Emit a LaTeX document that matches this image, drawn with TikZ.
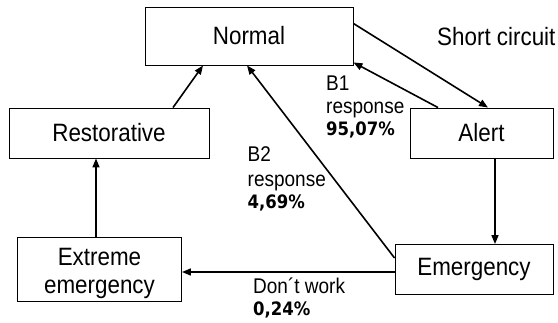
\documentclass[tikz,border=0pt]{standalone}
\usepackage{fontspec}
\setmainfont{Liberation Sans}
\newfontfamily\pctfont{DejaVu Sans}
\usetikzlibrary{arrows.meta}
% text in this chart is set slightly taller than its natural height
\newcommand{\tall}[1]{\scalebox{1}[1.12]{#1}}
\begin{document}
\begin{tikzpicture}[x=1pt,y=-1pt,
  state/.style={draw=black, line width=0.9pt, fill=white, inner sep=0pt,
    font=\fontsize{22.4}{26}\selectfont, align=center},
  flow/.style={line width=1.6pt, -{Triangle[length=9pt,width=7pt]}},
  lbl/.style={inner sep=0pt, anchor=base west, font=\fontsize{19}{22}\selectfont},
  pct/.style={inner sep=0pt, anchor=base west, font=\pctfont\bfseries\fontsize{16.5}{20}\selectfont}]
  \useasboundingbox (0,0) rectangle (558,322);

  % states
  \node[state, minimum width=208pt, minimum height=58pt] (normal) at (249,36) {\tall{Normal}};
  \node[state, minimum width=200pt, minimum height=50pt] (rest) at (109,133) {\tall{Restorative}};
  \node[state, minimum width=164pt, minimum height=64pt] (ext) at (99.5,269.5)
    {\rule{0pt}{25pt}\tall{Extreme}\\[2pt]\tall{emergency}};
  \node[state, minimum width=143pt, minimum height=50pt] (alert) at (481.5,133) {\tall{Alert}};
  \node[state, minimum width=158pt, minimum height=50pt] (emer) at (474,269.5) {\tall{Emergency}};

  % transitions
  \draw[flow] ([xshift=64pt]rest.north) -- ([xshift=-46pt]normal.south);
  \draw[flow] ([xshift=-3.5pt]ext.north) -- ([xshift=-13pt]rest.south);
  \draw[flow] ([yshift=12.5pt]normal.east) -- ([xshift=6.5pt]alert.north);
  \draw[flow] ([xshift=-43.5pt]alert.north) -- ([yshift=3pt]normal.south east);
  \draw[flow] ([xshift=13.5pt]alert.south) -- ([xshift=21pt]emer.north);
  \draw[flow] ([yshift=11.5pt]emer.west) -- ([xshift=-2pt]normal.south);
  \draw[flow] ([yshift=-2.5pt]emer.west) -- ([yshift=-2.5pt]ext.east);

  % labels
  \node[lbl, font=\fontsize{22.4}{26}\selectfont] (sc) at (437,45) {\tall{Short circuit}};
  \node[lbl] (b1) at (326,90) {\tall{B1}};
  \node[lbl] (b1r) at (326,113.5) {\tall{response}};
  \node[pct] (b1p) at (326,135.5) {\tall{95,07\%}};
  \node[lbl] (b2) at (247.5,161) {\tall{B2}};
  \node[lbl] (b2r) at (247.5,186) {\tall{response}};
  \node[pct] (b2p) at (247.5,208) {\tall{4,69\%}};
  \node[lbl] (dw) at (253,293) {\tall{Don´t work}};
  \node[pct] (dwp) at (253,315) {\tall{0,24\%}};
\end{tikzpicture}
\end{document}
